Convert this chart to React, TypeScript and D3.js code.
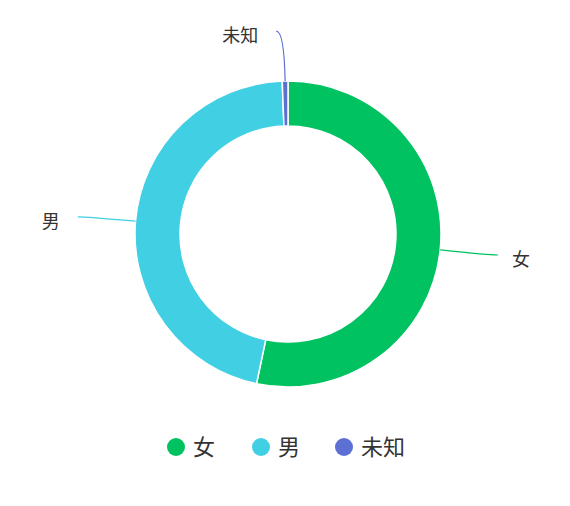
import * as d3 from "d3";
import React, { useEffect, useRef } from "react";

const categories = ["女", "男", "未知"];
const values = [533, 461, 6];
const colors = ["#00C261", "#41CFE3", "#5C70D4"];

const App = () => {
  const chartArea = useRef<SVGSVGElement | null>(null);
  const width = 570,
    height = 506;
  const cx = 288,
    cy = 234;
  const outerR = 153,
    innerR = 108;

  useEffect(() => {
    createChart();
  }, []);

  const createChart = () => {
    const svg = d3.select(chartArea.current);
    svg.selectAll("*").remove();

    const data = categories.map((name, i) => ({ name, value: values[i], color: colors[i] }));

    const pie = d3
      .pie<any>()
      .sort(null)
      .value((d: any) => d.value);
    const arcs = pie(data);

    const arc = d3.arc<any>().innerRadius(innerR).outerRadius(outerR);

    const g = svg.append("g").attr("transform", `translate(${cx},${cy})`);

    g.selectAll("path.slice")
      .data(arcs)
      .enter()
      .append("path")
      .attr("class", "slice")
      .attr("d", arc as any)
      .attr("fill", (d: any) => d.data.color)
      .attr("stroke", "#fff")
      .attr("stroke-width", 1.5);

    // label lines: radial part then a short horizontal part, smoothed
    const len1 = 50,
      len2 = 8;
    arcs.forEach((d: any) => {
      const mid = (d.startAngle + d.endAngle) / 2;
      const sx = Math.sin(mid),
        sy = -Math.cos(mid);
      const p0 = [outerR * sx, outerR * sy];
      const p1 = [(outerR + len1) * sx, (outerR + len1) * sy];
      const right = sx >= 0 && Math.abs(sx) > 0.05;
      const dir = right ? 1 : -1;
      const p2 = [p1[0] + dir * len2, p1[1]];
      g.append("path")
        .attr("d", `M${p0[0]},${p0[1]}Q${p1[0]},${p1[1]} ${p2[0]},${p2[1]}`)
        .attr("fill", "none")
        .attr("stroke", d.data.color)
        .attr("stroke-width", 1.2);
      g.append("text")
        .attr("x", p2[0] + dir * (right ? 14 : 18))
        .attr("y", p2[1])
        .attr("dy", "0.6em")
        .attr("text-anchor", right ? "start" : "end")
        .attr("font-size", 18)
        .attr("fill", "#333")
        .text(d.data.name);
    });

    // legend
    const legendXs = [176, 261, 344];
    const legend = svg
      .append("g")
      .selectAll("g")
      .data(data)
      .enter()
      .append("g")
      .attr("transform", (d: any, i: number) => `translate(${legendXs[i]},447)`);
    legend
      .append("circle")
      .attr("r", 9)
      .attr("fill", (d: any) => d.color);
    legend
      .append("text")
      .attr("x", 17)
      .attr("dy", "0.37em")
      .attr("font-size", 22)
      .attr("fill", "#333")
      .text((d: any) => d.name);
  };

  return (
    <svg
      ref={chartArea}
      width={width}
      height={height}
      style={{ position: "absolute", left: 0, top: 0, fontFamily: "'Noto Sans CJK SC', sans-serif", background: "#fff" }}
    />
  );
};

export default App;
